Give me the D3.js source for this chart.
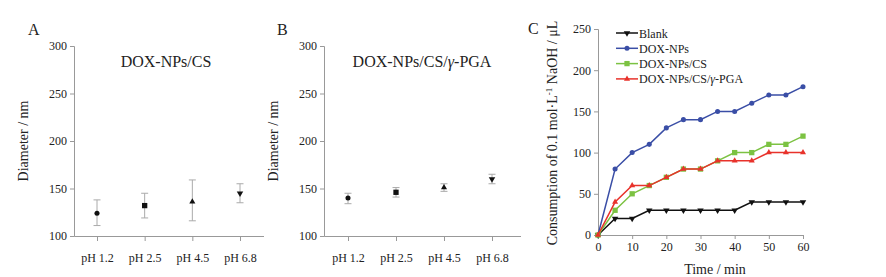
<!DOCTYPE html>
<html>
<head>
<meta charset="utf-8">
<script src="https://cdn.jsdelivr.net/npm/d3@7"></script>
<style>
  body { margin: 0; background: #fff; }
  svg text { font-family: "Liberation Serif", "Times New Roman", serif; fill: #222; }
</style>
</head>
<body>
<div class="chart"></div>
<script>
// panel A / B data
var phLabels = ["pH 1.2", "pH 2.5", "pH 4.5", "pH 6.8"];
var markerShapes = ["circle", "square", "triangle", "triangleDown"];
var csMean = [124, 132, 136, 145];
var csLow = [111, 119, 116, 135];
var csHigh = [138, 145, 159, 155];
var pgaMean = [140, 146, 151, 160];
var pgaLow = [134, 141, 147, 155];
var pgaHigh = [145, 151, 155, 165];
var diamTicks = [100, 150, 200, 250, 300];

// panel C data
var times = [0, 5, 10, 15, 20, 25, 30, 35, 40, 45, 50, 55, 60];
var blank = [0, 20, 20, 30, 30, 30, 30, 30, 30, 40, 40, 40, 40];
var doxNPs = [0, 80, 100, 110, 130, 140, 140, 150, 150, 160, 170, 170, 180];
var doxCS = [0, 30, 50, 60, 70, 80, 80, 90, 100, 100, 110, 110, 120];
var doxPGA = [0, 40, 60, 60, 70, 80, 80, 90, 90, 90, 100, 100, 100];
var seriesNames = ["Blank", "DOX-NPs", "DOX-NPs/CS", "DOX-NPs/CS/γ-PGA"];
var timeTicks = [0, 10, 20, 30, 40, 50, 60];
var consTicks = [0, 50, 100, 150, 200, 250];

var svg = d3.select(".chart").append("svg")
  .attr("width", 886).attr("height", 277);

var axisColor = "#999";

function symbolFor(name) {
  if (name == "circle") return d3.symbolCircle;
  if (name == "square") return d3.symbolSquare;
  return d3.symbolTriangle;
}

// symbol areas, roughly matching the small markers of the original
var symSize = { circle: 20, square: 28, triangle: 16, triangleDown: 18 };

function styleAxis(g) {
  g.select(".domain").attr("stroke", axisColor);
  g.selectAll(".tick line").attr("stroke", axisColor);
  g.selectAll(".tick text")
    .style("font-family", '"Liberation Serif", serif')
    .style("font-size", "12px")
    .attr("fill", "#222");
}

// Diameter panel (A and B)
function diamPanel(opt) {
  var g = svg.append("g").attr("transform", "translate(" + opt.left + ",0)");

  var y = d3.scaleLinear().domain([100, 300]).range([236, 46]);
  var x = d3.scalePoint().domain(phLabels).range([opt.x0, opt.x1]);

  var gY = g.append("g")
    .call(d3.axisLeft(y).tickValues(diamTicks).tickSize(4).tickPadding(3));
  styleAxis(gY);

  var gX = g.append("g").attr("transform", "translate(0,236)")
    .call(d3.axisBottom(x).tickSize(5).tickPadding(12));
  gX.select(".domain").attr("d", "M0.5,0.5H" + opt.axisEnd);
  styleAxis(gX);

  // error bars
  var eb = g.selectAll(".err").data(phLabels).enter().append("g");
  eb.append("line")
    .attr("x1", function(d) { return x(d); }).attr("x2", function(d) { return x(d); })
    .attr("y1", function(d, i) { return y(opt.low[i]); })
    .attr("y2", function(d, i) { return y(opt.high[i]); })
    .attr("stroke", "#aaa").attr("stroke-width", 1);
  eb.append("line")
    .attr("x1", function(d) { return x(d) - 3.5; }).attr("x2", function(d) { return x(d) + 3.5; })
    .attr("y1", function(d, i) { return y(opt.low[i]); })
    .attr("y2", function(d, i) { return y(opt.low[i]); })
    .attr("stroke", "#aaa");
  eb.append("line")
    .attr("x1", function(d) { return x(d) - 3.5; }).attr("x2", function(d) { return x(d) + 3.5; })
    .attr("y1", function(d, i) { return y(opt.high[i]); })
    .attr("y2", function(d, i) { return y(opt.high[i]); })
    .attr("stroke", "#aaa");

  // markers
  g.selectAll(".mk").data(phLabels).enter().append("path")
    .attr("d", function(d, i) {
      return d3.symbol().type(symbolFor(markerShapes[i])).size(symSize[markerShapes[i]])();
    })
    .attr("transform", function(d, i) {
      var rot = markerShapes[i] == "triangleDown" ? " rotate(180)" : "";
      return "translate(" + x(d) + "," + y(opt.mean[i]) + ")" + rot;
    })
    .attr("fill", "#111");

  g.append("text").attr("x", opt.titleX).attr("y", 67)
    .attr("text-anchor", "middle").style("font-size", "16px")
    .html(opt.title);

  g.append("text").attr("x", opt.letterX).attr("y", 35)
    .style("font-size", "16px").text(opt.letter);

  g.append("text")
    .attr("transform", "translate(" + opt.ylabX + ",141) rotate(-90)")
    .attr("text-anchor", "middle").style("font-size", "14px")
    .text("Diameter / nm");
}

diamPanel({ left: 74, x0: 23, x1: 166, axisEnd: 190, mean: csMean, low: csLow, high: csHigh,
  title: "DOX-NPs/CS", titleX: 92, letter: "A", letterX: -46, ylabX: -46 });
diamPanel({ left: 324, x0: 24, x1: 168, axisEnd: 197, mean: pgaMean, low: pgaLow, high: pgaHigh,
  title: "DOX-NPs/CS/<tspan font-style='italic'>γ</tspan>-PGA", titleX: 98, letter: "B", letterX: -47, ylabX: -46 });

// Panel C
var gc = svg.append("g");
var xc = d3.scaleLinear().domain([0, 60]).range([598, 803]);
var yc = d3.scaleLinear().domain([0, 250]).range([235, 29]);

var gcY = gc.append("g").attr("transform", "translate(598,0)")
  .call(d3.axisLeft(yc).tickValues(consTicks).tickSize(4).tickPadding(3));
styleAxis(gcY);
var gcX = gc.append("g").attr("transform", "translate(0,235)")
  .call(d3.axisBottom(xc).tickValues(timeTicks).tickSize(4).tickPadding(3));
styleAxis(gcX);

var series = [
  { name: seriesNames[0], values: blank, color: "#111", shape: "triangleDown" },
  { name: seriesNames[1], values: doxNPs, color: "#3a4ea6", shape: "circle" },
  { name: seriesNames[2], values: doxCS, color: "#7cc242", shape: "square" },
  { name: seriesNames[3], values: doxPGA, color: "#e8322b", shape: "triangle" }
];

var line = d3.line()
  .x(function(d, i) { return xc(times[i]); })
  .y(function(d) { return yc(d); });

function marker(sel, s) {
  sel.attr("d", d3.symbol().type(symbolFor(s.shape)).size(symSize[s.shape])())
    .attr("fill", s.color);
}

series.forEach(function(s) {
  gc.append("path").datum(s.values)
    .attr("fill", "none").attr("stroke", s.color).attr("stroke-width", 1.5)
    .attr("d", line);
  gc.selectAll(null).data(s.values).enter().append("path")
    .call(marker, s)
    .attr("transform", function(d, i) {
      var rot = s.shape == "triangleDown" ? " rotate(180)" : "";
      return "translate(" + xc(times[i]) + "," + yc(d) + ")" + rot;
    });
});

// legend
var lg = gc.selectAll(".lg").data(series).enter().append("g")
  .attr("transform", function(d, i) { return "translate(616," + (33 + i * 15.3) + ")"; });
lg.append("line").attr("x1", 0).attr("x2", 22)
  .attr("stroke", function(d) { return d.color; }).attr("stroke-width", 1.5);
lg.append("path").each(function(d) { d3.select(this).call(marker, d); })
  .attr("transform", function(d) { return "translate(11,0)" + (d.shape == "triangleDown" ? " rotate(180)" : ""); });
lg.append("text").attr("x", 23).attr("y", 4.5).style("font-size", "12px")
  .html(function(d) { return d.name.replace("γ", "<tspan font-style='italic'>γ</tspan>"); });

gc.append("text").attr("x", 528).attr("y", 34).style("font-size", "16px").text("C");

gc.append("text").attr("x", 715).attr("y", 274).attr("text-anchor", "middle")
  .style("font-size", "14px").text("Time / min");

gc.append("text")
  .attr("transform", "translate(557,133) rotate(-90)")
  .attr("text-anchor", "middle").style("font-size", "14px")
  .html("Consumption of 0.1 mol·L<tspan dy='-5' font-size='9px'>-1</tspan><tspan dy='5'> NaOH / μL</tspan>");
</script>
</body>
</html>
